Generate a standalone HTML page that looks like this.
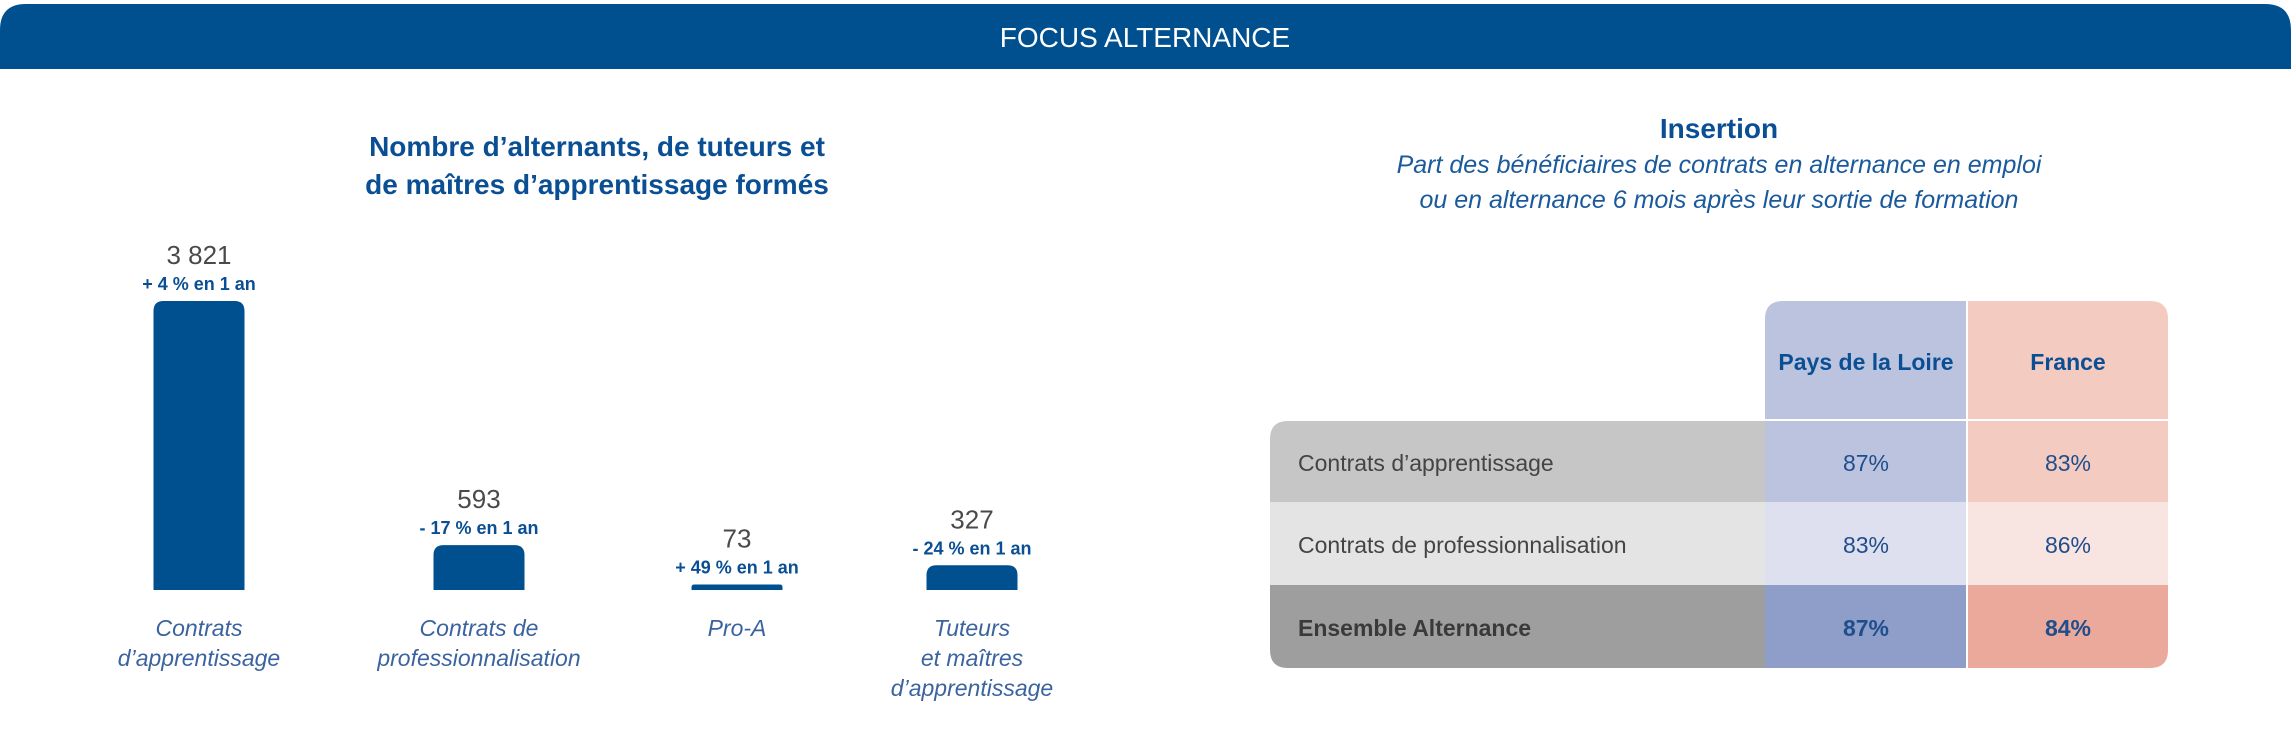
<!DOCTYPE html>
<html><head><meta charset="utf-8"><style>
html,body{margin:0;padding:0;background:#fff;width:2291px;height:750px;overflow:hidden}
svg{display:block;font-family:"Liberation Sans",sans-serif}
</style></head><body>
<svg id="s" width="2291" height="750" viewBox="0 0 2291 750">
<path d="M0,30 Q0,4 26,4 L2265,4 Q2291,4 2291,30 L2291,69 L0,69 Z" fill="#00508f"/>
<text x="1145" y="47" text-anchor="middle" font-size="28" fill="#fff">FOCUS ALTERNANCE</text>
<g fill="#0a4f94" font-weight="bold" font-size="28" text-anchor="middle">
<text x="597" y="156">Nombre d’alternants, de tuteurs et</text>
<text x="597" y="194">de maîtres d’apprentissage formés</text>
</g>
<g id="bars"></g>
<text x="1719" y="138" text-anchor="middle" font-size="28" font-weight="bold" fill="#0a4f94">Insertion</text>
<g fill="#1a5a9c" font-style="italic" font-size="25" text-anchor="middle">
<text x="1719" y="173">Part des bénéficiaires de contrats en alternance en emploi</text>
<text x="1719" y="208">ou en alternance 6 mois après leur sortie de formation</text>
</g>
<g>
<path d="M1765,319 Q1765,301 1783,301 L1966,301 L1966,419 L1765,419 Z" fill="#bcc3df"/>
<path d="M1968,301 L2150,301 Q2168,301 2168,319 L2168,419 L1968,419 Z" fill="#f4cbc1"/>
<text x="1866" y="370" text-anchor="middle" font-size="23" font-weight="bold" fill="#0a4f94">Pays de la Loire</text>
<text x="2068" y="370" text-anchor="middle" font-size="23" font-weight="bold" fill="#0a4f94">France</text>
<path d="M1270,439 Q1270,421 1288,421 L1765,421 L1765,502 L1270,502 Z" fill="#c6c6c6"/>
<rect x="1765" y="421" width="201" height="81" fill="#bcc3df"/>
<rect x="1968" y="421" width="200" height="81" fill="#f4cbc1"/>
<rect x="1270" y="502" width="495" height="83" fill="#e4e4e4"/>
<rect x="1765" y="502" width="201" height="83" fill="#dfe0ef"/>
<rect x="1968" y="502" width="200" height="83" fill="#f8e4e1"/>
<path d="M1270,585 L1765,585 L1765,668 L1288,668 Q1270,668 1270,650 Z" fill="#9e9e9e"/>
<rect x="1765" y="585" width="201" height="83" fill="#8e9ec8"/>
<path d="M1968,585 L2168,585 L2168,650 Q2168,668 2150,668 L1968,668 Z" fill="#eba99b"/>
<g font-size="23" fill="#444">
<text x="1298" y="471">Contrats d’apprentissage</text>
<text x="1298" y="553">Contrats de professionnalisation</text>
<text x="1298" y="636" font-weight="bold" fill="#3a3a3a">Ensemble Alternance</text>
</g>
<g font-size="23" fill="#1f4e8c" text-anchor="middle">
<text x="1866" y="471">87%</text>
<text x="2068" y="471">83%</text>
<text x="1866" y="553">83%</text>
<text x="2068" y="553">86%</text>
<text x="1866" y="636" font-weight="bold">87%</text>
<text x="2068" y="636" font-weight="bold">84%</text>
</g>
</g>
</svg>
<script>
const categories = [["Contrats","d’apprentissage"],["Contrats de","professionnalisation"],["Pro-A"],["Tuteurs","et maîtres","d’apprentissage"]];
const values = [3821, 593, 73, 327];
const valueLabels = ["3 821", "593", "73", "327"];
const changeLabels = ["+ 4 % en 1 an", "- 17 % en 1 an", "+ 49 % en 1 an", "- 24 % en 1 an"];
(function(){
  const NS = "http://www.w3.org/2000/svg";
  const g = document.getElementById('bars');
  const baseY = 590, maxH = 289, maxV = 3821;
  const centers = [199, 479, 737, 972];
  const bw = 91;
  const y = v => baseY - v / maxV * maxH;
  function mk(tag, attrs){const e=document.createElementNS(NS,tag);for(const k in attrs)e.setAttribute(k,attrs[k]);return e;}
  values.forEach((v,i)=>{
    const top = y(v), h = baseY - top, cx = centers[i], r = Math.min(10, h/2);
    const x0 = cx - bw/2, x1 = cx + bw/2;
    const bar = mk('path',{d:`M${x0},${baseY} L${x0},${top+r} Q${x0},${top} ${x0+r},${top} L${x1-r},${top} Q${x1},${top} ${x1},${top+r} L${x1},${baseY} Z`,fill:'#00508f'});
    
    
    g.appendChild(bar);
    const t = mk('text',{x:cx,y:top-37,'text-anchor':'middle','font-size':26,fill:'#4a4a4a'});
    t.textContent = valueLabels[i];
    
    
    g.appendChild(t);
    const c = mk('text',{x:cx,y:top-11,'text-anchor':'middle','font-size':18,'font-weight':'bold',fill:'#0a4f94'});
    c.textContent = changeLabels[i];
    
    
    g.appendChild(c);
    categories[i].forEach((line,j)=>{
      const l = mk('text',{x:cx,y:636+j*30,'text-anchor':'middle','font-size':23,'font-style':'italic',fill:'#3b63a0'});
      l.textContent = line;
      
      
      g.appendChild(l);
    });
  });
})();
</script>
</body></html>
